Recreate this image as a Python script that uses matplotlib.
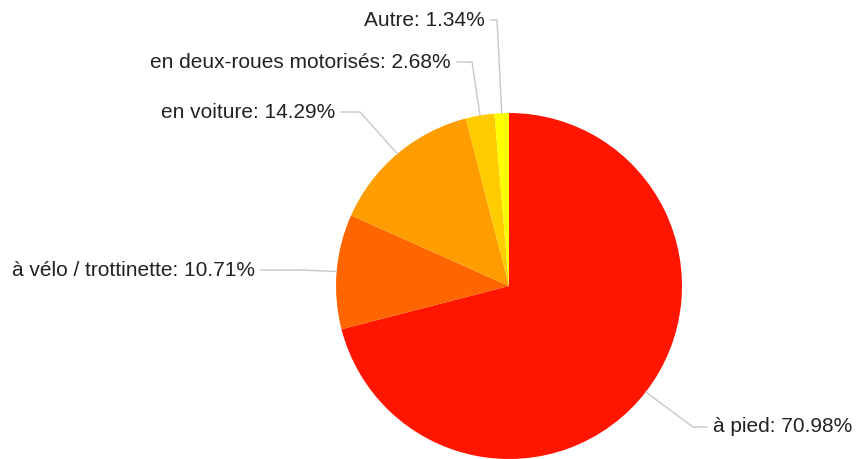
import numpy as np
import matplotlib.pyplot as plt

# Data
labels = ["à pied", "à vélo / trottinette", "en voiture", "en deux-roues motorisés", "Autre"]
shares = [70.98, 10.71, 14.29, 2.68, 1.34]
colors = ["#ff1500", "#ff6600", "#ff9c00", "#ffcc00", "#ffff00"]

# Layout (pixel coordinates, y up)
W, H = 857, 459
cx, cy, r = 509, 173, 173
# elbow point and text anchor for each label
elbows = [(693, 32), (300, 189), (360, 347), (472, 397), (497, 439)]
text_pos = [(713, 32), (255, 189), (335, 347), (451, 397), (485, 439)]
text_ha = ["left", "right", "right", "right", "right"]


def main():
    fig = plt.figure(figsize=(W / 100, H / 100), dpi=100)
    ax = fig.add_axes([0, 0, 1, 1])

    wedges, _ = ax.pie(shares, colors=colors, startangle=90, counterclock=False,
                       center=(cx, cy), radius=r, frame=True,
                       wedgeprops=dict(linewidth=0))
    ax.set_xlim(0, W)
    ax.set_ylim(0, H)
    ax.set_aspect("equal")
    ax.axis("off")

    for w, lab, val, (ex, ey), (tx, ty), ha in zip(wedges, labels, shares, elbows, text_pos, text_ha):
        mid = np.deg2rad((w.theta1 + w.theta2) / 2)
        px, py = cx + r * np.cos(mid), cy + r * np.sin(mid)
        gap = 6 if ha == "left" else -6
        ax.plot([px, ex, tx - gap], [py, ey, ty], color="#c8c8c8", lw=1, zorder=1)
        ax.text(tx, ty, f"{lab}: {val:.2f}%", ha=ha, va="center", fontsize=15,
                family="Liberation Sans", color="#222222")

    fig.savefig("out.png", dpi=100)


if __name__ == "__main__":
    main()
